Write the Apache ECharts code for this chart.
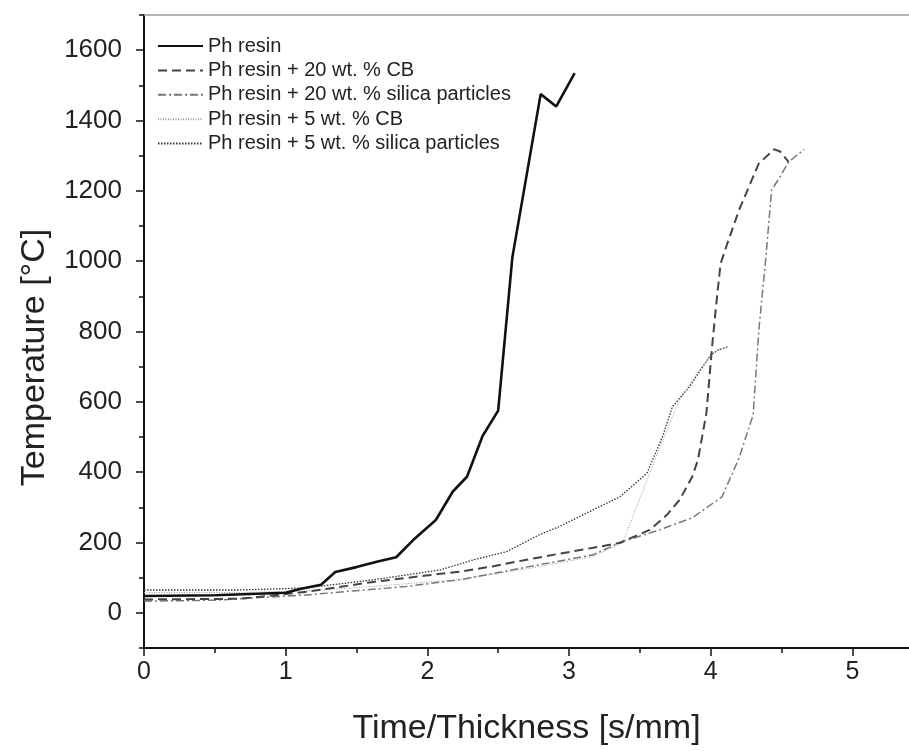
<!DOCTYPE html>
<html>
<head>
<meta charset="utf-8">
<script src="https://cdn.jsdelivr.net/npm/echarts@6/dist/echarts.min.js"></script>
<style>
  html, body { margin: 0; padding: 0; background: #fff; }
  #chart { width: 909px; height: 751px; }
</style>
</head>
<body>
<div id="chart"></div>
<script>
// ---- data (x = Time/Thickness [s/mm], y = Temperature [°C]) ----
const seriesNames = [
  'Ph resin',
  'Ph resin + 20 wt. % CB',
  'Ph resin + 20 wt. % silica particles',
  'Ph resin + 5 wt. % CB',
  'Ph resin + 5 wt. % silica particles'
];
const phResin = [[0,48],[0.5,50],[1.0,57],[1.1,68],[1.25,80],[1.35,116],[1.5,130],[1.65,146],[1.78,158],[1.9,207],[2.06,264],[2.18,345],[2.28,387],[2.39,503],[2.5,575],[2.6,1010],[2.8,1475],[2.91,1440],[3.04,1535]];
const cb20 = [[0,38],[0.68,40],[1.15,60],[1.62,88],[1.99,106],[2.23,117],[2.46,132],[2.7,151],[2.93,168],[3.17,185],[3.36,199],[3.57,236],[3.69,278],[3.78,321],[3.87,387],[3.91,435],[3.97,568],[4.01,757],[4.04,880],[4.07,993],[4.11,1041],[4.2,1145],[4.34,1278],[4.45,1318],[4.49,1312],[4.55,1282]];
const silica20 = [[0,33],[0.5,36],[1.15,51],[1.85,75],[2.23,94],[2.7,130],[3.17,165],[3.36,200],[3.64,236],[3.87,270],[4.08,330],[4.2,440],[4.3,563],[4.34,804],[4.39,1012],[4.43,1202],[4.49,1240],[4.55,1282],[4.66,1318]];
const cb5 = [[0,58],[0.68,58],[1.15,62],[1.62,75],[2.23,95],[2.7,125],[3.17,160],[3.38,200],[3.64,470],[3.78,605],[3.9,680],[4.02,740],[4.07,750]];
const silica5 = [[0,65],[0.68,65],[1.15,71],[1.62,94],[2.09,122],[2.32,150],[2.56,174],[2.79,222],[2.93,245],[3.17,293],[3.36,330],[3.55,397],[3.66,501],[3.73,586],[3.85,643],[4.0,733],[4.05,747],[4.12,757]];

const xMajorTicks = [0,1,2,3,4,5];
const xMinorTicks = [0.5,1.5,2.5,3.5,4.5];
const yMajorTicks = [0,200,400,600,800,1000,1200,1400,1600];
const yMinorTicks = [-100,100,300,500,700,900,1100,1300,1500,1700];

const FONT = "'Liberation Sans', Arial, sans-serif";
const chart = echarts.init(document.getElementById('chart'), null, { renderer: 'canvas' });

const styles = [
  { color: '#111111', width: 2.6, type: 'solid' },
  { color: '#444444', width: 2, type: [9, 5] },
  { color: '#777777', width: 1.5, type: [8, 3, 2, 3] },
  { color: '#9a9a9a', width: 1, type: [1, 1.5] },
  { color: '#333333', width: 1.3, type: [1.5, 1.5] }
];
const datasets = [phResin, cb20, silica20, cb5, silica5];

chart.setOption({
  backgroundColor: '#ffffff',
  animation: false,
  textStyle: { fontFamily: FONT },
  grid: { left: 144, top: 15, right: -1, bottom: 103, containLabel: false },
  legend: {
    orient: 'vertical',
    left: 152,
    top: 31,
    itemWidth: 45,
    itemHeight: 14,
    itemGap: 4.4,
    itemStyle: { opacity: 0 },
    textStyle: { fontSize: 20, lineHeight: 20, color: '#222', fontFamily: FONT },
    data: seriesNames
  },
  xAxis: [
    {
      type: 'value', position: 'bottom', min: 0, max: 5.4, interval: 1,
      axisLine: { show: true, onZero: false, lineStyle: { color: '#111', width: 2 } },
      axisTick: { show: true, inside: false, length: 8, lineStyle: { color: '#111', width: 1.5 }, customValues: xMajorTicks },
      axisLabel: { show: true, fontSize: 25, color: '#222', margin: 12, customValues: xMajorTicks, fontFamily: FONT },
      splitLine: { show: false },
      name: 'Time/Thickness [s/mm]', nameLocation: 'middle', nameGap: 64,
      nameTextStyle: { fontSize: 34, color: '#222', fontFamily: FONT }
    },
    {
      type: 'value', position: 'bottom', min: 0, max: 5.4, interval: 1,
      axisLine: { show: false, onZero: false },
      axisTick: { show: true, inside: false, length: 5, lineStyle: { color: '#111', width: 1.5 }, customValues: xMinorTicks },
      axisLabel: { show: false }, splitLine: { show: false }
    },
    {
      type: 'value', position: 'top', min: 0, max: 5.4, interval: 1,
      axisLine: { show: true, onZero: false, lineStyle: { color: '#9a9a9a', width: 1.5 } },
      axisTick: { show: false }, axisLabel: { show: false }, splitLine: { show: false }
    }
  ],
  yAxis: [
    {
      type: 'value', position: 'left', min: -100, max: 1700, interval: 100,
      axisLine: { show: true, onZero: false, lineStyle: { color: '#111', width: 2 } },
      axisTick: { show: true, inside: false, length: 8, lineStyle: { color: '#111', width: 1.5 }, customValues: yMajorTicks },
      axisLabel: { show: true, fontSize: 26, color: '#222', margin: 22, customValues: yMajorTicks, fontFamily: FONT,
                   formatter: v => String(v) },
      splitLine: { show: false },
      name: 'Temperature [°C]', nameLocation: 'middle', nameGap: 92, nameRotate: 90,
      nameTextStyle: { fontSize: 34, color: '#222', fontFamily: FONT, padding: [0, 52, 0, 0] }
    },
    {
      type: 'value', position: 'left', min: -100, max: 1700, interval: 100,
      axisLine: { show: false, onZero: false },
      axisTick: { show: true, inside: false, length: 5, lineStyle: { color: '#111', width: 1.5 }, customValues: yMinorTicks },
      axisLabel: { show: false }, splitLine: { show: false }
    }
  ],
  series: datasets.map((d, i) => ({
    name: seriesNames[i],
    type: 'line',
    xAxisIndex: 0,
    yAxisIndex: 0,
    data: d,
    showSymbol: false,
    symbol: 'none',
    smooth: false,
    z: 10 - i,
    lineStyle: { color: styles[i].color, width: styles[i].width, type: styles[i].type },
    itemStyle: { color: styles[i].color }
  }))
});
</script>
</body>
</html>
